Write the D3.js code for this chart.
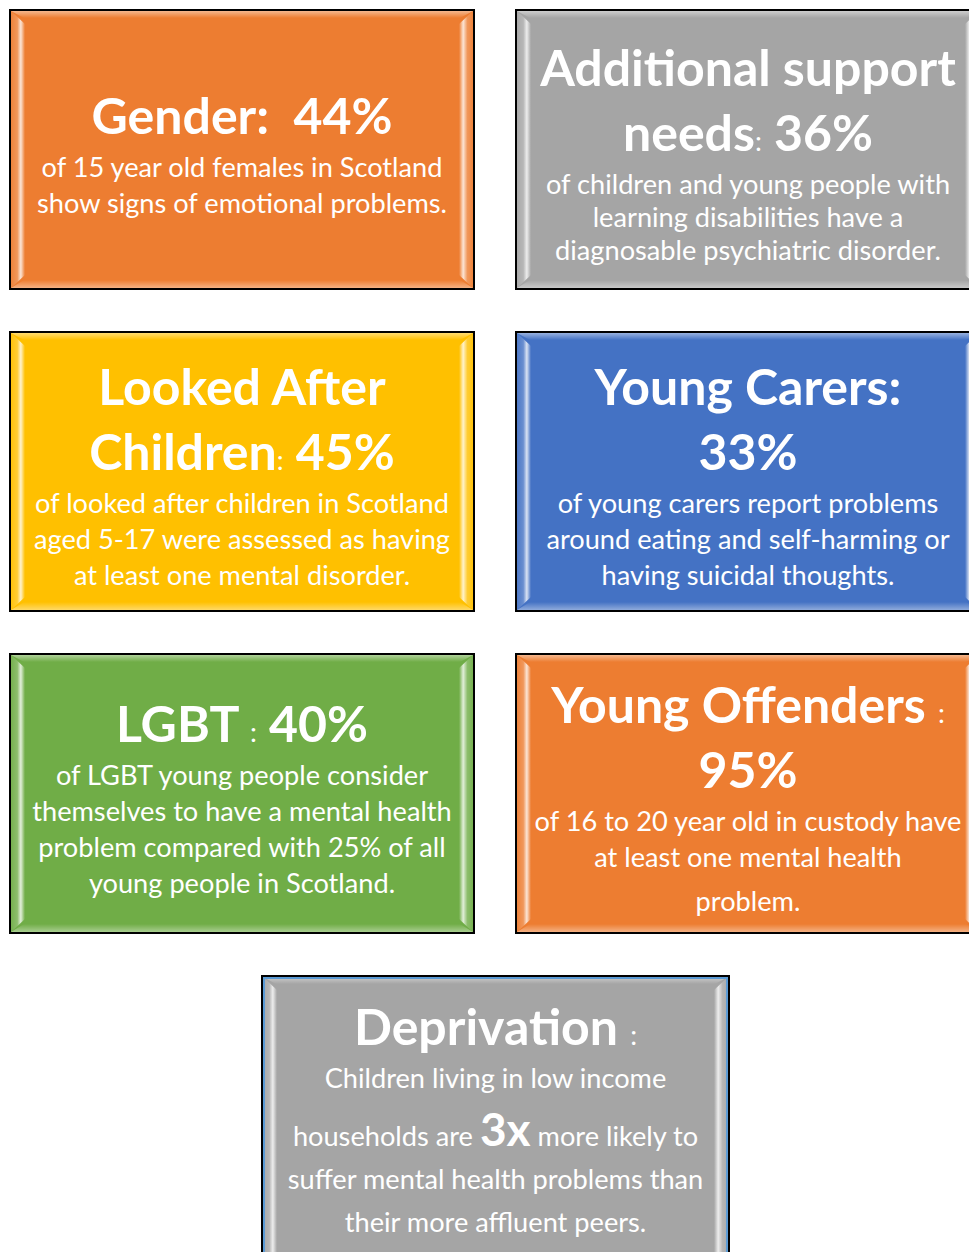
<!DOCTYPE html>
<html>
<head>
<meta charset="utf-8">
<script src="https://cdn.jsdelivr.net/npm/d3@7"></script>
<style>
  html, body { margin: 0; padding: 0; background: #fff; overflow: hidden; }
  svg { display: block; }
  text { font-family: Lato, "Noto Sans", sans-serif; fill: #fff; white-space: pre; }
</style>
</head>
<body>
<svg id="vis" width="969" height="1252"></svg>
<script>
// one card per group
const groups = ['gender', 'asn', 'lac', 'carers', 'lgbt', 'offenders', 'deprivation'];
const cardColors = ['#ED7D31', '#A5A5A5', '#FFC000', '#4472C4', '#70AD47', '#ED7D31', '#A5A5A5'];
const titles = [
  ['Gender:  44%'],
  ['Additional support', 'needs: 36%'],
  ['Looked After', 'Children: 45%'],
  ['Young Carers:', '33%'],
  ['LGBT : 40%'],
  ['Young Offenders :', '95%'],
  ['Deprivation :']
];
const descriptions = [
  ['of 15 year old females in Scotland', 'show signs of emotional problems.'],
  ['of children and young people with', 'learning disabilities have a', 'diagnosable psychiatric disorder.'],
  ['of looked after children in Scotland', 'aged 5-17 were assessed as having', 'at least one mental disorder.'],
  ['of young carers report problems', 'around eating and self-harming or', 'having suicidal thoughts.'],
  ['of LGBT young people consider', 'themselves to have a mental health', 'problem compared with 25% of all', 'young people in Scotland.'],
  ['of 16 to 20 year old in custody have', 'at least one mental health', 'problem.'],
  ['Children living in low income', 'households are *3x* more likely to', 'suffer mental health problems than', 'their more affluent peers.']
];
// cards whose title colon is set smaller
const smallColon = ['asn', 'lac', 'lgbt', 'offenders', 'deprivation'];

const svg = d3.select('#vis');

// step 506 / band 464 across, step 322 / band 279 down
const col = d3.scaleBand().domain([0, 1]).range([10, 980]).paddingInner(42 / 506);
const row = d3.scaleBand().domain([0, 1, 2, 3]).range([10, 1255]).paddingInner(43 / 322);

const cards = groups.map((g, i) => {
  if (i < 6) return { g, i, x: col(i % 2), y: row(Math.floor(i / 2)), w: col.bandwidth(), h: row.bandwidth() };
  return { g, i, x: 262, y: row(3), w: 467, h: 300 };
});

// layout of text lines inside a card
const titleStep = 65, titleToBody = 43;
const bodySteps = [36, 33, 36, 36, 36, 36, 43];
const extraGap = { offenders: [0, 0, 8], deprivation: [0, 15, 0, 0] };
const titleSize = 50, bodySize = 27.2;

const defs = svg.append('defs');
function grad(id, x2, y2, stops) {
  const lg = defs.append('linearGradient').attr('id', id)
    .attr('x1', 0).attr('y1', 0).attr('x2', x2).attr('y2', y2);
  stops.forEach(s => lg.append('stop').attr('offset', s[0]).attr('stop-color', '#fff').attr('stop-opacity', s[1]));
}
grad('bevL', 1, 0, [[0, 0.05], [0.45, 0.2], [0.7, 0.8], [1, 0]]);
grad('bevR', 1, 0, [[0, 0], [0.3, 0.8], [0.6, 0.2], [1, 0.05]]);
grad('bevT', 0, 1, [[0, 0.45], [1, 0]]);
grad('bevB', 0, 1, [[0, 0], [1, 0.4]]);

const g = svg.selectAll('g.card').data(cards).join('g').attr('class', 'card');

g.append('rect')
  .attr('x', d => d.x).attr('y', d => d.y).attr('width', d => d.w).attr('height', d => d.h)
  .attr('fill', d => cardColors[d.i]).attr('stroke', '#000').attr('stroke-width', 2);

const b = 14;
// top and bottom bands
g.append('path').attr('fill', 'url(#bevT)')
  .attr('d', d => `M${d.x + 1},${d.y + 1}H${d.x + d.w - 1}L${d.x + d.w - b},${d.y + 8}H${d.x + b}Z`);
g.append('path').attr('fill', 'url(#bevB)')
  .attr('d', d => `M${d.x + b},${d.y + d.h - 9}H${d.x + d.w - b}L${d.x + d.w - 1},${d.y + d.h - 1}H${d.x + 1}Z`);
// side strips
g.append('path').attr('fill', 'url(#bevL)')
  .attr('d', d => `M${d.x + 1},${d.y + 1}L${d.x + b + 1},${d.y + b}V${d.y + d.h - b}L${d.x + 1},${d.y + d.h - 1}Z`);
g.append('path').attr('fill', 'url(#bevR)')
  .attr('d', d => `M${d.x + d.w - 1},${d.y + 1}L${d.x + d.w - b - 1},${d.y + b}V${d.y + d.h - b}L${d.x + d.w - 1},${d.y + d.h - 1}Z`);

// deprivation card has a blue inner outline
g.filter(d => d.g === 'deprivation').append('rect')
  .attr('x', d => d.x + 2).attr('y', d => d.y + 2).attr('width', d => d.w - 4).attr('height', d => d.h - 4)
  .attr('fill', 'none').attr('stroke', '#5B9BD5').attr('stroke-width', 2);

g.each(function(d) {
  const sel = d3.select(this);
  const tl = titles[d.i], dl = descriptions[d.i];
  const step = bodySteps[d.i];
  const extra = extraGap[d.g] || dl.map(() => 0);
  // baselines relative to first title baseline
  const tb = tl.map((t, k) => k * titleStep);
  let last = tb[tb.length - 1] + titleToBody;
  const bb = dl.map((t, k) => { if (k > 0) last += step; last += extra[k]; return last; });
  const top = -36, bottom = bb[bb.length - 1] + 5;
  const off = d.y + d.h / 2 + 8 - (top + bottom) / 2;
  const cy = d.i < 6 ? off : d.y + 69;
  const cx = d.x + (d.i % 2 === 1 && d.i < 6 ? 232 : d.w / 2);

  tl.forEach((t, k) => {
    const txt = sel.append('text').attr('x', cx).attr('y', cy + tb[k])
      .attr('text-anchor', 'middle').attr('font-weight', 700).attr('font-size', titleSize);
    if (smallColon.includes(d.g) && t.includes(':')) {
      const parts = t.split(':');
      txt.append('tspan').text(parts[0]);
      txt.append('tspan').attr('font-size', titleSize * 0.55).attr('font-weight', 400).text(':');
      txt.append('tspan').text(parts[1]);
    } else {
      txt.text(t);
    }
  });
  dl.forEach((t, k) => {
    const txt = sel.append('text').attr('x', cx).attr('y', cy + bb[k])
      .attr('text-anchor', 'middle').attr('font-size', bodySize);
    t.split('*').forEach((p, j) => {
      const ts = txt.append('tspan').text(p);
      if (j % 2 === 1) ts.attr('font-weight', 700).attr('font-size', 46);
    });
  });
});
</script>
</body>
</html>
